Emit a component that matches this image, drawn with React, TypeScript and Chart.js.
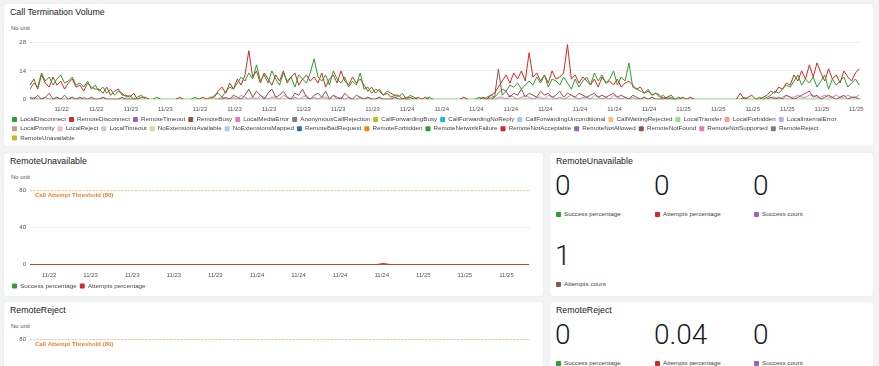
import React, { useEffect, useRef } from 'react';
import { Chart, registerables } from 'chart.js';

Chart.register(...registerables);

const FONT = '"Liberation Sans", Arial, Helvetica, sans-serif';
Chart.defaults.font.family = FONT;

// ---------- time axis (hours counted from 11/22 00:00) ----------
const X_MIN = 15.25;
const X_MAX = 87.4;
const MAIN_START_HOUR = 15.25;
const MAIN_STEP_HOURS = 1 / 3;

const MAIN_TICK_HOURS = [18, 21, 24, 27, 30, 33, 36, 39, 42, 45, 48, 51, 54, 57, 60, 63, 66, 69, 72, 75, 78, 81, 84, 87];
const MAIN_TICK_LABELS = ['11/22', '11/22', '11/23', '11/23', '11/23', '11/23', '11/23', '11/23', '11/23', '11/23',
  '11/24', '11/24', '11/24', '11/24', '11/24', '11/24', '11/24', '11/24', '11/25', '11/25', '11/25', '11/25', '11/25', '11/25'];

const PANEL_TICK_HOURS = [18, 24, 30, 36, 42, 48, 54, 60, 66, 72, 78, 84];
const PANEL_TICK_LABELS = ['11/22', '11/23', '11/23', '11/23', '11/23', '11/24', '11/24', '11/24', '11/24', '11/25', '11/25', '11/25'];

// ---------- Call Termination Volume ----------
const SERIES_NAMES = [
  'LocalDisconnect', 'RemoteDisconnect', 'RemoteTimeout', 'RemoteBusy', 'LocalMediaError', 'AnonymousCallRejection',
  'CallForwardingBusy', 'CallForwardingNoReply', 'CallForwardingUnconditional', 'CallWaitingRejected', 'LocalTransfer',
  'LocalForbidden', 'LocalInternalError', 'LocalPriority', 'LocalReject', 'LocalTimeout', 'NoExtensionsAvailable',
  'NoExtensionsMapped', 'RemoteBadRequest', 'RemoteForbidden', 'RemoteNetworkFailure', 'RemoteNotAcceptable',
  'RemoteNotAllowed', 'RemoteNotFound', 'RemoteNotSupported', 'RemoteReject', 'RemoteUnavailable',
];
const SERIES_COLORS = [
  '#2ca02c', '#d62728', '#9467bd', '#8c564b', '#e377c2', '#7f7f7f',
  '#bcbd22', '#17becf', '#aec7e8', '#ffbb78', '#98df8a',
  '#ff9896', '#c5b0d5', '#c49c94', '#f7b6d2', '#c7c7c7', '#dbdb8d',
  '#9edae5', '#1f77b4', '#ff7f0e', '#2ca02c', '#d62728',
  '#9467bd', '#8c564b', '#e377c2', '#7f7f7f', '#bcbd22',
];

const N = null;
const LOCAL_DISCONNECT = [
  5, 8, 6, 13, 9, 11, 7, 10, 12, 8, 9, 11, 7,
  8, 6, 9, 5, 7,
  4, 6, 3, 5, 2, 4, 3,
  1, 2, 0, 1, 2, 0,
  N, 0, 1, 0, N, N, N, N, N,
  N, N, 0, 1, 0, N, N, 0,
  2, 3, 1, 4, 6, 5,
  8, 11, 9, 13, 10, 17, 9,
  12, 8, 14, 10, 7, 13, 9, 11, 6, 12, 10, 8, 13, 20, 11, 9, 12, 7, 14, 10, 8, 11, 6, 9, 7, 13,
  5, 6, 3, 5, 4, 2, 4, 3, 2,
  1, 3, 0, 2, 1, 0,
  N, 0, 1, 0, N, N, N, N,
  N, N, N, N, N, N, 0, 1,
  0, 1, 2, 1,
  3, 5, 4, 7, 6, 8, 5, 7,
  9, 7, 11, 8, 12, 6, 10, 9, 7, 11,
  8, 5, 10, 6, 9,
  11, 7, 13, 9, 12, 8, 10, 14, 7, 11, 9, 18,
  6, 5, 4, 3, 5, 2, 3,
  1, 2, 0, 1, 0, 1, 0,
  N, N, N, N, N, N, N, N, N, N, N, N, N,
  N, 0, 1, 0, N, 0, 1, 0,
  1, 2, 4, 3, 5, 7, 6,
  9, 12, 7, 10, 8, 11, 6, 9, 12, 5, 10, 7, 9, 11, 6, 8, 10, 7,
];
const REMOTE_DISCONNECT = [
  7, 10, 5, 12, 8, 6, 11, 7, 9, 5, 8, 10, 6,
  7, 4, 8, 6, 5,
  5, 3, 6, 2, 4, 5, 2,
  2, 1, 3, 0, 1, 1,
  0, N, N, N, N, N, N, 0, 1,
  0, N, N, N, 0, 1, 0, 1,
  1, 4, 6, 3, 8, 5,
  10, 7, 12, 24, 11, 14, 8,
  13, 10, 7, 12, 9, 14, 8, 11, 13, 7, 10, 12, 9, 11, 8, 13, 6, 10, 12, 8, 14, 9, 7, 11, 8, 10,
  7, 4, 6, 3, 5, 2, 3, 1, 2,
  2, 0, 1, 1, 0, 1,
  0, 1, 0, N, N, N, N, N,
  N, N, 0, 1, 0, N, N, 0,
  1, 0, 2, 3,
  6, 9, 12, 8, 13, 10, 14, 9,
  23, 11, 13, 9, 12, 8, 14, 10, 11, 13,
  27, 10, 12, 8, 11,
  9, 7, 10, 6, 11, 8, 9, 7, 10, 6, 8, 9,
  7, 5, 6, 3, 4, 2, 3,
  2, 0, 1, 2, 0, 0, 1,
  0, 1, 0, N, N, N, N, N, N, N, N, N, N,
  0, 3, 0, 1, 2, 0, 0, 1,
  2, 4, 3, 6, 5, 8, 7,
  12, 9, 14, 10, 17, 11, 18, 13, 9, 15, 10, 12, 8, 14, 11, 9, 13, 15,
];
const REMOTE_BUSY = [
  1, 0, 2, 0, 1, 3, 0, 1, 0, 2, 0, 1, 0,
  1, 0, 0, 1, 0, 0, 1, 0, 0, 0, 0, 1,
  0, 0, 0, 0, N, N,
  N, N, N, N, N, N, N, N, N, N, N, N, N, N, N, N, N,
  N, 0, 0, 1, 0, 2,
  1, 0, 2, 5, 1, 4, 2, 0, 3, 5, 1, 2, 4, 1, 0, 3, 2, 5, 1, 0, 2, 3, 1, 4, 0, 2, 1, 0, 3, 1, 0, 2, 1,
  0, 1, 0, 0, 1, 0, 0, 0, 1, 0, 0, 0, 0, N, N,
  N, N, N, N, N, N, N, N, N, N, N, N, N, N, N, N,
  N, 0, 0, 1,
  15, 2, 4, 1, 3, 2, 5, 1, 3, 2, 1, 4, 2, 3, 1, 2, 4, 1, 3, 2, 1, 3, 2, 1, 2, 3, 1, 2, 1, 2, 3, 1, 2, 1, 0, 2, 1, 0, 1,
  0, 1, 0, 0, 1, 0, 0, 0, N, N,
  N, N, N, N, N, N, N, N, N, N, N, N, N, N, N, N, N, N, N, N, N,
  0, 1, 0, 1, 0, 2, 1, 0, 1, 2, 3, 4, 1, 2, 0, 1, 2, 1, 0, 1, 2, 0, 1, 1, 0,
];
const LOCAL_MEDIA_ERROR = [
  0, 1, 0, 0, 1, 0, 0, 1, 0, 0, 0, 1, 0, 0, 1, 0, 0, 0, 0, 1, 0, 0, 0, 0, 0, 0, 0, 0, 0, N, N,
  N, N, N, N, N, N, N, N, N, N, N, N, N, N, N, N, N,
  0, 0, 1, 0, 0, 1, 0, 2, 1, 0, 1, 0, 2, 1, 0, 1, 1, 0, 2, 1, 0, 1, 0, 1, 2, 0, 1, 0, 1, 1, 0, 2, 0, 1, 0, 1, 0, 0, 1, 0,
  1, 0, 0, 1, 0, 0, 0, 1, 0, 0, 0, 0, N, N,
  N, N, N, N, N, N, N, N, N, N, N, N, N, N, N, N,
  0, 0, 1, 0, 1, 1, 0, 2, 1, 0, 1, 2, 1, 0, 1, 1, 0, 2, 1, 0, 1, 0, 1, 2, 1, 0, 1, 1, 0, 2, 1, 0, 1, 0, 2, 1, 0, 1, 0, 1,
  0, 0, 1, 0, 1, 0, 0, 0, 1, 0, 0, N, N,
  N, N, N, N, N, N, N, N, N, N, N, N, N, N, N, N, N, N, N, N, N,
  0, 1, 1, 0, 1, 2, 1, 1, 2, 1, 1, 2, 2, 1, 1, 2, 1, 1, 2, 1, 1, 2, 1, 1, 2,
];
const LOCAL_TRANSFER_TIMES = [15.25, 87.4];
const LOCAL_TRANSFER = [0, 0];

// ---------- RemoteUnavailable / RemoteReject panels ----------
const CALL_ATTEMPT_THRESHOLD = 80;
const PANEL_START_HOUR = 15.25;
const PANEL_STEP_HOURS = 1;
const UNAVAILABLE_SUCCESS_PCT = [
  0, 0, 0, 0, 0, 0, 0, 0, 0, 0, 0, 0, 0, 0, 0, 0, 0, 0, 0, 0, 0, 0, 0, 0, 0, 0, 0, 0, 0, 0, 0, 0, 0, 0, 0, 0, 0,
  0, 0, 0, 0, 0, 0, 0, 0, 0, 0, 0, 0, 0, 0, 0, 0, 0, 0, 0, 0, 0, 0, 0, 0, 0, 0, 0, 0, 0, 0, 0, 0, 0, 0, 0, 0,
];
const UNAVAILABLE_ATTEMPTS_PCT = [
  0, 0, 0, 0, 0, 0, 0, 0, 0, 0, 0, 0, 0, 0, 0, 0, 0, 0, 0, 0, 0, 0, 0, 0, 0, 0, 0, 0, 0, 0, 0, 0, 0, 0, 0, 0, 0,
  0, 0, 0, 0, 0, 0, 0, 0, 0, 0, 0, 0, 0, 0, 1, 0, 0, 0, 0, 0, 0, 0, 0, 0, 0, 0, 0, 0, 0, 0, 0, 0, 0, 0, 0, 0,
];
const REJECT_SUCCESS_PCT = [
  0, 0, 0, 0, 0, 0, 0, 0, 0, 0, 0, 0, 0, 0, 0, 0, 0, 0, 0, 0, 0, 0, 0, 0, 0, 0, 0, 0, 0, 0, 0, 0, 0, 0, 0, 0, 0,
  0, 0, 0, 0, 0, 0, 0, 0, 0, 0, 0, 0, 0, 0, 0, 0, 0, 0, 0, 0, 0, 0, 0, 0, 0, 0, 0, 0, 0, 0, 0, 0, 0, 0, 0, 0,
];
const REJECT_ATTEMPTS_PCT = [
  0, 0, 0, 0, 0, 0, 0, 0, 0, 0, 0, 0, 0, 0, 0, 0, 0, 0, 0, 0, 0, 0, 0, 0, 0, 0, 0, 0, 0, 0, 0, 0, 0, 0, 0, 0, 0,
  0, 0, 0, 0, 0, 0, 0, 0, 0, 0, 0, 0, 0, 0, 0, 0, 0, 0, 0, 0, 0, 0, 0, 0, 0, 0, 0, 0, 0, 0, 0, 0, 0, 0, 0, 0,
];

const STAT_LABELS = ['Success percentage', 'Attempts percentage', 'Success count', 'Attempts count'];
const STAT_COLORS = ['#2ca02c', '#d62728', '#9467bd', '#8c564b'];
const UNAVAILABLE_STAT_VALUES = ['0', '0', '0', '1'];
const REJECT_STAT_VALUES = ['0', '0.04', '0'];

// ---------- helpers ----------
const MAIN_TIMES = LOCAL_DISCONNECT.map((_, i) => MAIN_START_HOUR + i * MAIN_STEP_HOURS);
const PANEL_TIMES = UNAVAILABLE_SUCCESS_PCT.map((_, i) => PANEL_START_HOUR + i * PANEL_STEP_HOURS);
const toPoints = (vals: (number | null)[], times: number[]) => vals.map((v, i) => ({ x: times[i], y: v }));

const SERIES_DATA: Record<string, { x: number; y: number | null }[]> = {
  LocalDisconnect: toPoints(LOCAL_DISCONNECT, MAIN_TIMES),
  RemoteDisconnect: toPoints(REMOTE_DISCONNECT, MAIN_TIMES),
  RemoteBusy: toPoints(REMOTE_BUSY, MAIN_TIMES),
  LocalMediaError: toPoints(LOCAL_MEDIA_ERROR, MAIN_TIMES),
  LocalTransfer: toPoints(LOCAL_TRANSFER, LOCAL_TRANSFER_TIMES),
};

const tickFont = { family: FONT, size: 6 };
const TICK_COLOR = '#555';

const legendOptions = (filterOut?: string) => ({
  display: true,
  position: 'bottom' as const,
  align: 'start' as const,
  labels: {
    boxWidth: 5,
    boxHeight: 5,
    padding: 3,
    color: '#444',
    font: { family: FONT, size: 6.25 },
    useBorderRadius: true,
    borderRadius: 1,
    sort: (a: any, b: any) => a.datasetIndex - b.datasetIndex,
    filter: (item: any) => item.text !== filterOut,
    generateLabels: (chart: any) =>
      (Chart.defaults.plugins.legend.labels as any).generateLabels(chart).map((l: any) => ({ ...l, lineWidth: 0 })),
  },
});

const xAxis = (hours: number[], labels: string[], pad: number, height: number) => ({
  type: 'linear' as const,
  min: X_MIN,
  max: X_MAX,
  grid: { display: false, drawTicks: false },
  border: { display: false },
  afterBuildTicks: (axis: any) => {
    axis.ticks = hours.map((v) => ({ value: v }));
  },
  afterFit: (axis: any) => {
    axis.height = height;
  },
  ticks: {
    autoSkip: false,
    maxRotation: 0,
    padding: pad,
    color: TICK_COLOR,
    font: tickFont,
    callback: (v: any) => {
      const i = hours.indexOf(Number(v));
      return i >= 0 ? labels[i] : '';
    },
  },
});

const yAxis = (max: number, ticks: number[]) => ({
  min: 0,
  max,
  grid: { color: '#efefef', drawTicks: false, lineWidth: 1 },
  border: { display: false },
  afterBuildTicks: (axis: any) => {
    axis.ticks = ticks.map((v) => ({ value: v }));
  },
  afterFit: (axis: any) => {
    axis.width = 21;
  },
  ticks: { padding: 4, color: TICK_COLOR, font: tickFont },
});

const thresholdLabelPlugin = {
  id: 'thresholdLabel',
  afterDatasetsDraw(chart: any, _args: any, opts: any) {
    if (!opts || !opts.text) return;
    const { ctx, chartArea, scales } = chart;
    const y = scales.y.getPixelForValue(opts.value);
    ctx.save();
    ctx.font = `bold 6px ${FONT}`;
    ctx.fillStyle = opts.color;
    ctx.textBaseline = 'middle';
    ctx.textAlign = 'left';
    ctx.fillText(opts.text, chartArea.left + 5, y + 5);
    ctx.restore();
  },
};

function mainConfig(): any {
  return {
    type: 'line',
    data: {
      datasets: SERIES_NAMES.map((name, i) => ({
        label: name,
        data: SERIES_DATA[name] || [],
        borderColor: SERIES_COLORS[i],
        backgroundColor: SERIES_COLORS[i],
        borderWidth: name === 'LocalTransfer' ? 2 : 1,
        pointRadius: 0,
        tension: 0,
        spanGaps: false,
      })),
    },
    options: {
      responsive: false,
      animation: false,
      devicePixelRatio: 1,
      layout: { padding: { top: 6, left: 5, right: 12, bottom: 0 } },
      scales: {
        x: xAxis(MAIN_TICK_HOURS, MAIN_TICK_LABELS, 6, 14),
        y: yAxis(28, [0, 14, 28]),
      },
      plugins: { legend: legendOptions(), tooltip: { enabled: false } },
    },
  };
}

function panelConfig(success: number[], attempts: number[]): any {
  return {
    type: 'line',
    data: {
      datasets: [
        {
          label: 'Success percentage',
          data: toPoints(success, PANEL_TIMES),
          borderColor: '#2ca02c',
          backgroundColor: '#2ca02c',
          borderWidth: 1.5,
          pointRadius: 0,
          order: 1,
        },
        {
          label: 'Attempts percentage',
          data: toPoints(attempts, PANEL_TIMES),
          borderColor: '#d62728',
          backgroundColor: '#d62728',
          borderWidth: 1.5,
          pointRadius: 0,
          order: 0,
        },
        {
          label: '__threshold',
          data: [
            { x: X_MIN, y: CALL_ATTEMPT_THRESHOLD },
            { x: X_MAX, y: CALL_ATTEMPT_THRESHOLD },
          ],
          borderColor: '#f7a15f',
          backgroundColor: '#f7a15f',
          borderWidth: 1,
          borderDash: [2, 1.5],
          pointRadius: 0,
          order: 2,
        },
      ],
    },
    plugins: [thresholdLabelPlugin],
    options: {
      responsive: false,
      animation: false,
      devicePixelRatio: 1,
      layout: { padding: { top: 6, left: 5, right: 13, bottom: 0 } },
      scales: {
        x: xAxis(PANEL_TICK_HOURS, PANEL_TICK_LABELS, 7, 15),
        y: yAxis(80, [0, 40, 80]),
      },
      plugins: {
        legend: legendOptions('__threshold'),
        tooltip: { enabled: false },
        thresholdLabel: {
          text: `Call Attempt Threshold (${CALL_ATTEMPT_THRESHOLD})`,
          value: CALL_ATTEMPT_THRESHOLD,
          color: '#f0802f',
        },
      },
    },
  };
}

function ChartCanvas({ make, left, top, width, height }: any) {
  const ref = useRef<HTMLCanvasElement | null>(null);
  useEffect(() => {
    if (!ref.current) return;
    const chart = new Chart(ref.current, make());
    return () => chart.destroy();
  }, []);
  return (
    <canvas
      ref={ref}
      width={width}
      height={height}
      style={{ position: 'absolute', left, top, width, height, display: 'block' }}
    />
  );
}

const panelStyle = (left: number, top: number, width: number, height: number): React.CSSProperties => ({
  position: 'absolute',
  left,
  top,
  width,
  height,
  background: '#ffffff',
  borderRadius: 2,
  boxShadow: '0 0 1px rgba(0,0,0,0.18)',
});

function Title({ text }: { text: string }) {
  return (
    <div
      style={{
        position: 'absolute',
        left: 6,
        top: 3,
        fontFamily: FONT,
        fontSize: 8.8,
        lineHeight: '11px',
        color: '#16191f',
        whiteSpace: 'nowrap',
      }}
    >
      {text}
    </div>
  );
}

function NoUnit() {
  return (
    <div
      style={{
        position: 'absolute',
        left: 7,
        top: 20,
        fontFamily: FONT,
        fontSize: 6,
        lineHeight: '8px',
        color: '#555',
        whiteSpace: 'nowrap',
      }}
    >
      No unit
    </div>
  );
}

const STAT_COL_X = [6, 105, 204];

function StatPanel({ left, top, title, values }: { left: number; top: number; title: string; values: string[] }) {
  return (
    <div style={panelStyle(left, top, 323, 143)}>
      <Title text={title} />
      {values.map((v, i) => {
        const col = i % 3;
        const row = Math.floor(i / 3);
        const x = STAT_COL_X[col];
        const y0 = row * 70;
        return (
          <React.Fragment key={i}>
            <div
              style={{
                position: 'absolute',
                left: x - 1,
                top: y0 + 18.5,
                fontFamily: 'Roboto, ' + FONT,
                fontWeight: 300,
                fontSize: 28,
                lineHeight: '28px',
                color: '#16191f',
                whiteSpace: 'nowrap',
              }}
            >
              {v}
            </div>
            <div
              style={{
                position: 'absolute',
                left: x,
                top: y0 + 58.8,
                width: 5,
                height: 5,
                borderRadius: 1,
                background: STAT_COLORS[i],
              }}
            />
            <div
              style={{
                position: 'absolute',
                left: x + 8,
                top: y0 + 57.3,
                fontFamily: FONT,
                fontSize: 6.25,
                lineHeight: '8px',
                color: '#444',
                whiteSpace: 'nowrap',
              }}
            >
              {STAT_LABELS[i]}
            </div>
          </React.Fragment>
        );
      })}
    </div>
  );
}

export default function App() {
  useEffect(() => {
    document.body.style.margin = '0';
    document.body.style.background = '#f2f3f3';
    document.body.style.overflow = 'hidden';
  }, []);
  return (
    <div style={{ position: 'relative', width: 879, height: 366, overflow: 'hidden', background: '#f2f3f3' }}>
      <div style={panelStyle(4, 4, 869, 142)}>
        <Title text="Call Termination Volume" />
        <NoUnit />
        <ChartCanvas make={mainConfig} left={0} top={31} width={869} height={116} />
      </div>

      <div style={panelStyle(4, 153, 539, 143)}>
        <Title text="RemoteUnavailable" />
        <NoUnit />
        <ChartCanvas
          make={() => panelConfig(UNAVAILABLE_SUCCESS_PCT, UNAVAILABLE_ATTEMPTS_PCT)}
          left={0}
          top={30}
          width={539}
          height={116}
        />
      </div>
      <StatPanel left={550} top={153} title="RemoteUnavailable" values={UNAVAILABLE_STAT_VALUES} />

      <div style={panelStyle(4, 302, 539, 143)}>
        <Title text="RemoteReject" />
        <NoUnit />
        <ChartCanvas
          make={() => panelConfig(REJECT_SUCCESS_PCT, REJECT_ATTEMPTS_PCT)}
          left={0}
          top={30}
          width={539}
          height={116}
        />
      </div>
      <StatPanel left={550} top={302} title="RemoteReject" values={REJECT_STAT_VALUES} />
    </div>
  );
}
